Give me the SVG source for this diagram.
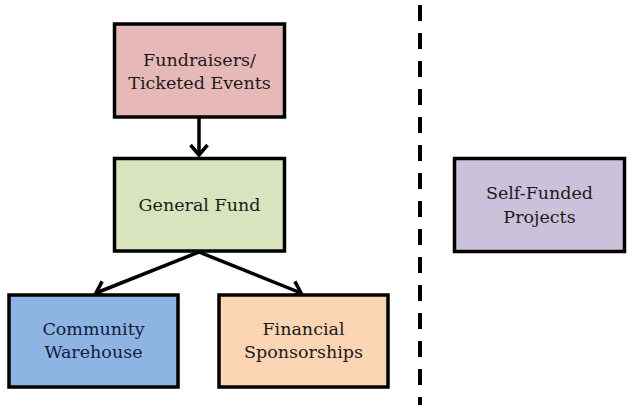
<svg xmlns="http://www.w3.org/2000/svg" width="632" height="412" viewBox="0 0 632 412">
<defs>
<style>
.box{stroke:#000;stroke-width:3.5}
.lbl{font-family:"DejaVu Serif","Liberation Serif","Times New Roman",serif;font-size:17.5px;fill:#1c1a1a;text-anchor:middle}
.conn{stroke:#000;stroke-width:3.5;fill:none}
</style>
<marker id="arr" markerWidth="20" markerHeight="20" viewBox="0 0 20 20" refX="15" refY="10" orient="auto" markerUnits="userSpaceOnUse">
<path d="M5,1.5 L15,10 L5,18.5" fill="none" stroke="#000" stroke-width="3.5"/>
</marker>
</defs>
<rect width="632" height="412" fill="#fff"/>
<g id="connectors">
<line class="conn" x1="199" y1="117" x2="199" y2="155" marker-end="url(#arr)"/>
<line class="conn" x1="199" y1="252" x2="96" y2="293" marker-end="url(#arr)"/>
<line class="conn" x1="199" y1="252" x2="301" y2="293" marker-end="url(#arr)"/>
<line x1="420" y1="5" x2="420" y2="405" stroke="#000" stroke-width="4" stroke-dasharray="16 12"/>
</g>
<g id="fundraisers">
<rect class="box" x="114.5" y="24" width="170" height="93" fill="#E6B8B7"/>
<text class="lbl" x="199.5" y="66">Fundraisers/</text>
<text class="lbl" x="199.5" y="89">Ticketed Events</text>
</g>
<g id="general-fund">
<rect class="box" x="114.5" y="158.5" width="170" height="92.5" fill="#D7E4BD"/>
<text class="lbl" x="199.5" y="211">General Fund</text>
</g>
<g id="community-warehouse">
<rect class="box" x="9" y="295" width="169" height="92" fill="#8EB4E3"/>
<text class="lbl" x="93.5" y="335" style="fill:#12203c">Community</text>
<text class="lbl" x="93.5" y="358" style="fill:#12203c">Warehouse</text>
</g>
<g id="financial-sponsorships">
<rect class="box" x="219" y="295" width="169" height="92" fill="#FCD5B5"/>
<text class="lbl" x="303.5" y="335">Financial</text>
<text class="lbl" x="303.5" y="358">Sponsorships</text>
</g>
<g id="self-funded">
<rect class="box" x="454.5" y="158.5" width="170" height="93" fill="#CCC1DA"/>
<text class="lbl" x="539.5" y="199">Self-Funded</text>
<text class="lbl" x="539.5" y="223">Projects</text>
</g>
</svg>
